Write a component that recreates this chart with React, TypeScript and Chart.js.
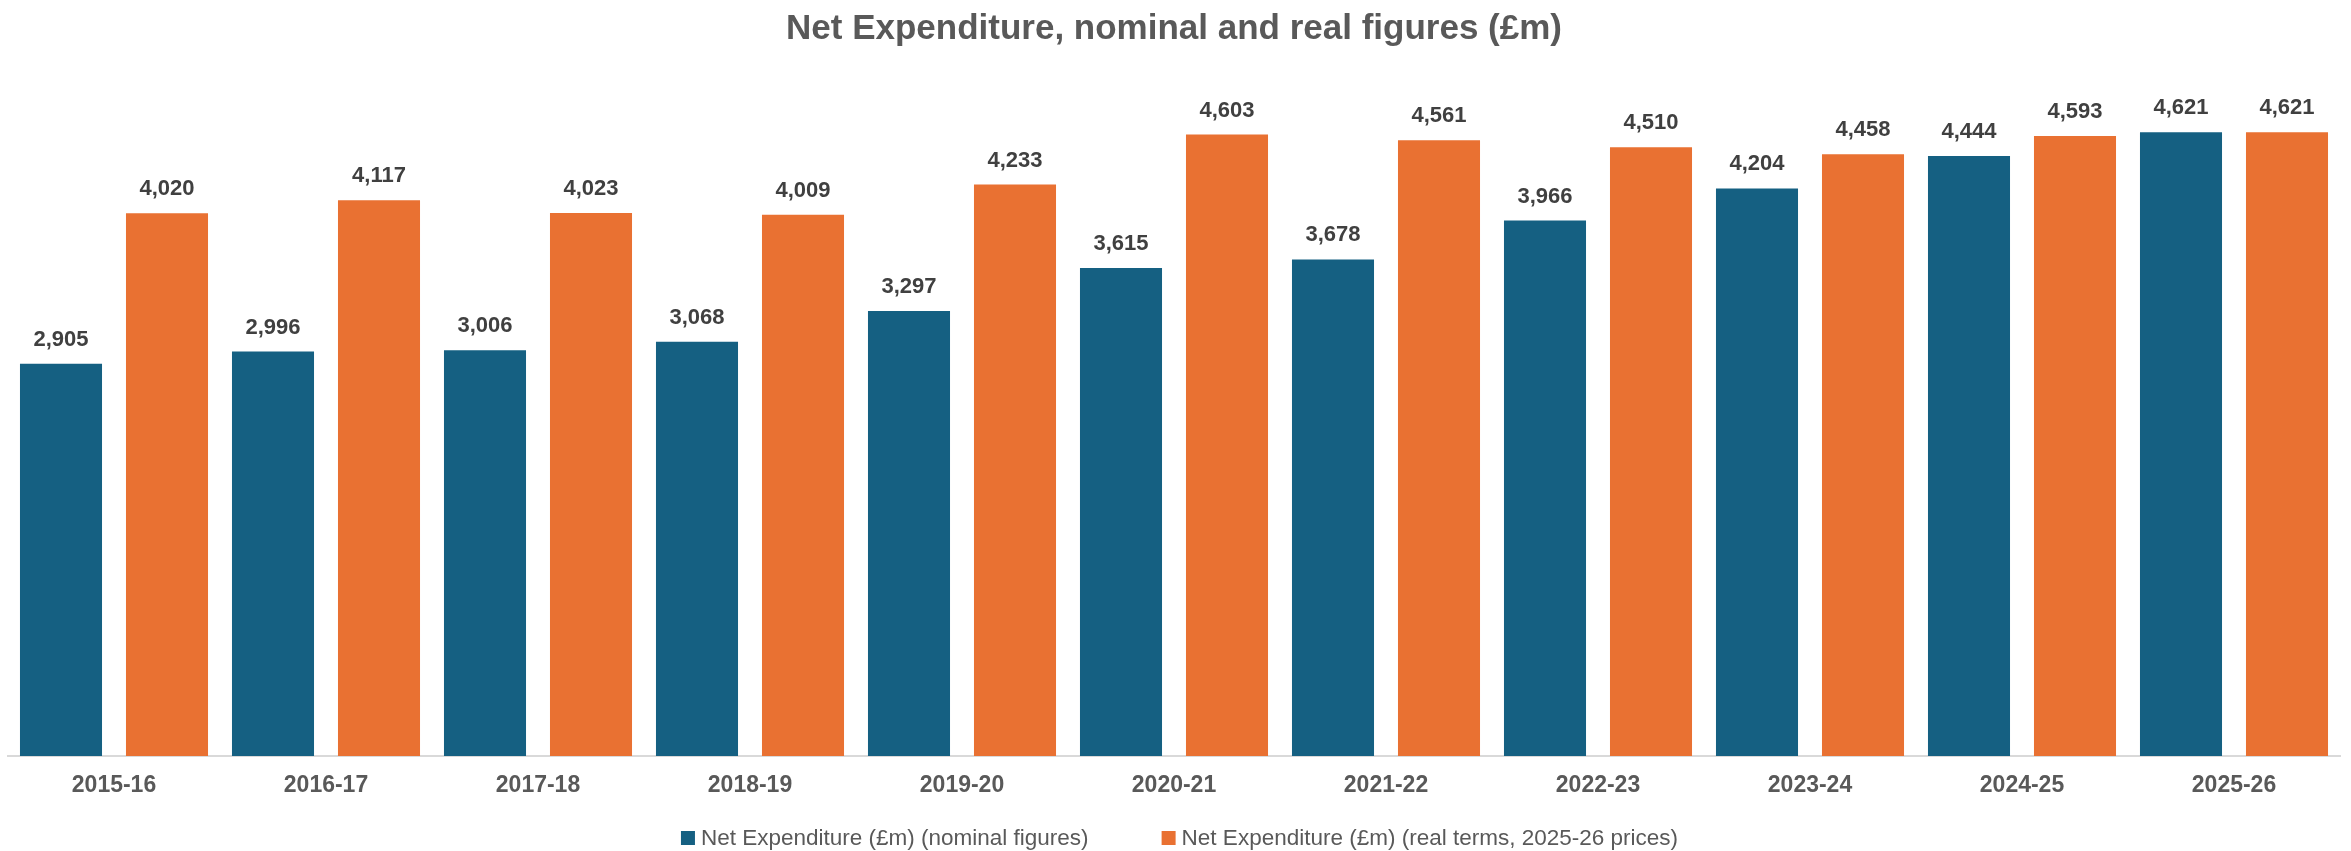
import React, { useEffect, useRef } from "react";
import { Chart, registerables } from "chart.js";

Chart.register(...registerables);

// ---- Data ----
const categories = [
  "2015-16",
  "2016-17",
  "2017-18",
  "2018-19",
  "2019-20",
  "2020-21",
  "2021-22",
  "2022-23",
  "2023-24",
  "2024-25",
  "2025-26",
];
const nominalValues = [2905, 2996, 3006, 3068, 3297, 3615, 3678, 3966, 4204, 4444, 4621];
const realValues = [4020, 4117, 4023, 4009, 4233, 4603, 4561, 4510, 4458, 4593, 4621];
const seriesLabels = [
  "Net Expenditure (£m) (nominal figures)",
  "Net Expenditure (£m) (real terms, 2025-26 prices)",
];
const seriesColors = ["#156082", "#E97132"];
const chartTitle = "Net Expenditure, nominal and real figures (£m)";
const yMin = 0;
const yMax = 5000;

const FONT = '"Liberation Sans", Arial, sans-serif';
const W = 2351;
const H = 851;

function fmt(v: number): string {
  return String(v).replace(/\B(?=(\d{3})+(?!\d))/g, ",");
}

const valueLabelPlugin = {
  id: "valueLabels",
  afterDatasetsDraw(chart: any) {
    const { ctx } = chart;
    ctx.save();
    ctx.font = `bold 22px ${FONT}`;
    ctx.fillStyle = "#404040";
    ctx.textAlign = "center";
    ctx.textBaseline = "alphabetic";
    chart.data.datasets.forEach((ds: any, di: number) => {
      const meta = chart.getDatasetMeta(di);
      meta.data.forEach((el: any, i: number) => {
        ctx.fillText(fmt(ds.data[i]), el.x, el.y - 18);
      });
    });
    ctx.restore();
  },
};

const bottomLegendPlugin = {
  id: "bottomLegend",
  afterDraw(chart: any) {
    const { ctx } = chart;
    const box = 14;
    const gap = 6;
    const spacing = 73;
    const cy = 838;
    ctx.save();
    ctx.font = `22.5px ${FONT}`;
    ctx.textBaseline = "middle";
    ctx.textAlign = "left";
    const items = chart.data.datasets.map((ds: any) => ({
      text: ds.label as string,
      color: ds.backgroundColor as string,
      w: ctx.measureText(ds.label).width,
    }));
    let total = 0;
    items.forEach((it: any, i: number) => {
      total += box + gap + it.w + (i < items.length - 1 ? spacing : 0);
    });
    let x = chart.width / 2 + 4 - total / 2;
    items.forEach((it: any) => {
      ctx.fillStyle = it.color;
      ctx.fillRect(x, cy - box / 2, box, box);
      ctx.fillStyle = "#595959";
      ctx.fillText(it.text, x + box + gap, cy + 1);
      x += box + gap + it.w + spacing;
    });
    ctx.restore();
  },
};

export default function App() {
  const canvasRef = useRef<HTMLCanvasElement | null>(null);

  useEffect(() => {
    document.body.style.margin = "0";
    document.body.style.overflow = "hidden";
    const canvas = canvasRef.current;
    if (!canvas) return;
    const chart = new Chart(canvas, {
      type: "bar",
      data: {
        labels: categories,
        datasets: [
          {
            label: seriesLabels[0],
            data: nominalValues,
            backgroundColor: seriesColors[0],
            borderWidth: 0,
            categoryPercentage: 1.0,
            barPercentage: 0.774,
          },
          {
            label: seriesLabels[1],
            data: realValues,
            backgroundColor: seriesColors[1],
            borderWidth: 0,
            categoryPercentage: 1.0,
            barPercentage: 0.774,
          },
        ],
      },
      options: {
        responsive: false,
        animation: false,
        devicePixelRatio: 1,
        layout: {
          padding: { left: 8, right: 11, top: 0, bottom: 35.4 },
        },
        plugins: {
          legend: { display: false },
          tooltip: { enabled: false },
          title: {
            display: true,
            text: chartTitle,
            color: "#595959",
            font: { family: FONT, size: 35, weight: "bold" },
            padding: { top: 8, bottom: 31 },
          },
        },
        scales: {
          x: {
            grid: { display: false, drawTicks: false },
            border: { display: true, color: "#D9D9D9", width: 2 },
            ticks: {
              color: "#595959",
              font: { family: FONT, size: 23, weight: "bold" },
              padding: 16,
              maxRotation: 0,
              autoSkip: false,
            },
          },
          y: {
            display: false,
            min: yMin,
            max: yMax,
            grid: { display: false },
          },
        },
      },
      plugins: [valueLabelPlugin, bottomLegendPlugin],
    } as any);
    return () => chart.destroy();
  }, []);

  return (
    <div style={{ width: W, height: H, background: "#ffffff" }}>
      <canvas ref={canvasRef} width={W} height={H} style={{ display: "block" }} />
    </div>
  );
}
